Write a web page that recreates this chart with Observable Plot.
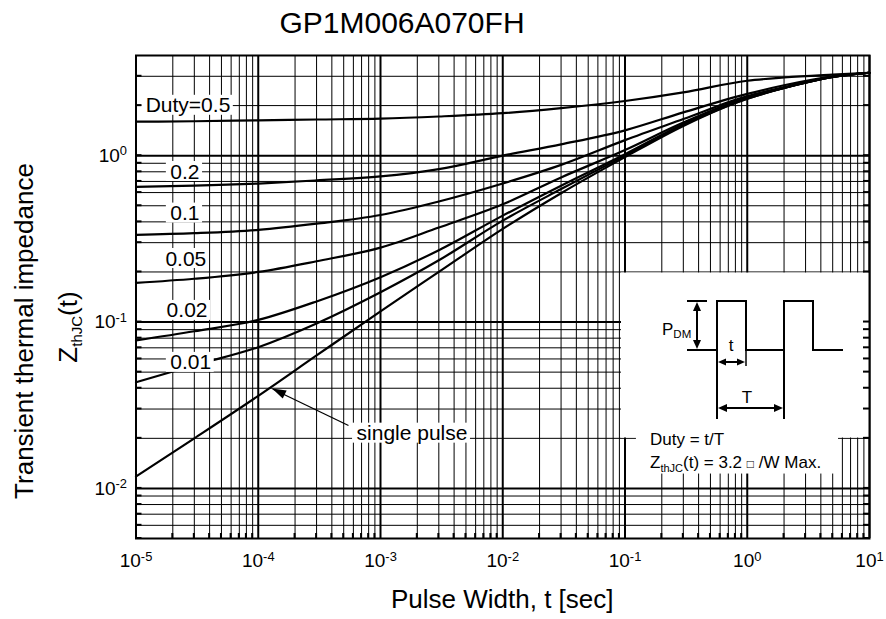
<!DOCTYPE html>
<html><head><meta charset="utf-8">
<script src="https://cdn.jsdelivr.net/npm/d3@7"></script>
<script src="https://cdn.jsdelivr.net/npm/@observablehq/plot@0.6"></script>
<style>body{margin:0;background:#fff} svg{display:block}</style>
</head><body><div id="chart"></div>
<script>
// ---- data ----
const pulseWidth = [1e-5, 3e-5, 1e-4, 3e-4, 1e-3, 3e-3, 1e-2, 3e-2, 0.1, 0.3, 1, 2, 5, 10];
const duty05   = [1.60, 1.61, 1.63, 1.65, 1.67, 1.72, 1.80, 1.93, 2.13, 2.40, 2.82, 2.95, 3.07, 3.15];
const duty02   = [0.65, 0.66, 0.68, 0.71, 0.75, 0.83, 1.00, 1.17, 1.42, 1.82, 2.35, 2.65, 3.00, 3.15];
const duty01   = [0.334, 0.342, 0.358, 0.39, 0.44, 0.53, 0.68, 0.88, 1.24, 1.66, 2.28, 2.58, 2.98, 3.15];
const duty005  = [0.172, 0.182, 0.200, 0.232, 0.28, 0.37, 0.51, 0.74, 1.08, 1.58, 2.24, 2.56, 2.97, 3.15];
const duty002  = [0.0776, 0.088, 0.103, 0.133, 0.186, 0.27, 0.436, 0.66, 1.02, 1.55, 2.22, 2.55, 2.97, 3.15];
const duty001  = [0.0435, 0.055, 0.0706, 0.098, 0.151, 0.235, 0.407, 0.63, 1.00, 1.53, 2.20, 2.55, 2.97, 3.15];
const single   = [0.0118, 0.0200, 0.036, 0.063, 0.116, 0.200, 0.363, 0.595, 0.98, 1.51, 2.20, 2.55, 2.97, 3.15];
const seriesKeys = ["0.5", "0.2", "0.1", "0.05", "0.02", "0.01", "single pulse"];
const seriesValues = [duty05, duty02, duty01, duty005, duty002, duty001, single];

const curveLabels = [
  {text: "Duty=0.5", t: 1.2e-5, z: 2},
  {text: "0.2", t: 1.91e-5, z: 0.8},
  {text: "0.1", t: 1.91e-5, z: 0.45},
  {text: "0.05", t: 1.74e-5, z: 0.24},
  {text: "0.02", t: 1.78e-5, z: 0.117},
  {text: "0.01", t: 1.91e-5, z: 0.057},
  {text: "single pulse", t: 6.37e-4, z: 0.0214}
];
const pointerArrow = [{t1: 5.47e-4, z1: 0.0239, t2: 1.31e-4, z2: 0.0396}];
const insetBoxes = [
  {x1: 0.0936, x2: 10, y1: 0.0201, y2: 0.197},
  {x1: 0.124, x2: 5.58, y1: 0.0122, y2: 0.0203}
];

const mantissas = [1, 2, 3, 4, 5, 6, 7, 8, 9];
const xDecades = [-5, -4, -3, -2, -1, 0];
const xTicks = [1e-5, 1e-4, 1e-3, 1e-2, 1e-1, 1, 10];
const yTicks = [0.01, 0.1, 1];
const xGridMinor = xDecades.flatMap(e => mantissas.slice(1).map(m => m * 10 ** e));
const yGridMinor = [-3, -2, -1, 0].flatMap(e => mantissas.slice(1).map(m => m * 10 ** e)).filter(v => v >= 0.005 && v < 4);

const rows = seriesKeys.flatMap((k, i) => pulseWidth.map((t, j) => ({series: k, t, z: seriesValues[i][j]})));
const fmt = d => "10^" + Math.round(Math.log10(d));

const plot = Plot.plot({
  width: 886, height: 619,
  marginLeft: 135.5, marginRight: 17, marginTop: 55, marginBottom: 81,
  style: {fontFamily: '"Liberation Sans", Arial, sans-serif', fontSize: "19px", background: "white", color: "#000"},
  x: {type: "log", domain: [1e-5, 10]},
  y: {type: "log", domain: [0.005, 4]},
  marks: [
    Plot.ruleX(xGridMinor, {stroke: "#000", strokeWidth: 1}),
    Plot.ruleX(xTicks, {stroke: "#000", strokeWidth: 2}),
    Plot.ruleY(yGridMinor, {stroke: "#000", strokeWidth: 1}),
    Plot.ruleY(yTicks, {stroke: "#000", strokeWidth: 2}),
    Plot.rect(insetBoxes, {x1: "x1", x2: "x2", y1: "y1", y2: "y2", fill: "white"}),
    Plot.line(rows, {x: "t", y: "z", z: "series", curve: "monotone-x", stroke: "#000", strokeWidth: 2.2}),
    Plot.link(pointerArrow, {x1: "t1", y1: "z1", x2: "t2", y2: "z2", stroke: "#000", strokeWidth: 1.3}),
    Plot.text(curveLabels, {x: "t", y: "z", text: "text", textAnchor: "start", fontSize: 21, fill: "#000"}),
    Plot.frame({stroke: "#000", strokeWidth: 2}),
    Plot.axisX(xTicks, {tickSize: 0, tickPadding: 15, tickFormat: fmt, label: null, fontSize: 19}),
    Plot.axisY(yTicks, {tickSize: 0, tickPadding: 9, tickFormat: fmt, label: null, fontSize: 19})
  ]
});
document.getElementById("chart").appendChild(plot);

const svg = d3.select(plot);
const xS = plot.scale("x"), yS = plot.scale("y");
const X = v => xS.apply(v), Y = v => yS.apply(v);

// superscript exponents on tick labels
svg.selectAll('g[aria-label="x-axis tick label"] text, g[aria-label="y-axis tick label"] text').each(function () {
  const s = this.textContent;
  if (!s.includes("^")) return;
  const [b, e] = s.split("^");
  const t = d3.select(this);
  t.text(null);
  t.append("tspan").text(b);
  t.append("tspan").attr("dy", "-0.5em").attr("font-size", "0.68em").text(e);
});

// white boxes behind curve labels
const labNode = svg.select('g[aria-label="text"]').node();
const bg = d3.select(labNode.parentNode.insertBefore(document.createElementNS("http://www.w3.org/2000/svg", "g"), labNode));
d3.select(labNode).selectAll("text").each(function () {
  const b = this.getBBox();
  const tr = this.getAttribute("transform");
  const r = bg.append("rect").attr("x", b.x - 4).attr("y", b.y + 2).attr("width", b.width + 7).attr("height", b.height - 3).attr("fill", "white");
  if (tr) r.attr("transform", tr);
  if (this.getAttribute("x")) r.attr("x", +this.getAttribute("x") * 0 + b.x - 4);
});

function head(g, tx, ty, dx, dy, len, hw) {
  const n = Math.hypot(dx, dy); dx /= n; dy /= n;
  const bx = tx - dx * len, by = ty - dy * len, px = -dy, py = dx;
  g.append("polygon").attr("points", `${tx},${ty} ${bx + px * hw},${by + py * hw} ${bx - px * hw},${by - py * hw}`).attr("fill", "#000");
}

// pointer head for "single pulse"
const pa = pointerArrow[0];
const overlay = svg.append("g");
head(overlay, X(pa.t2), Y(pa.z2), X(pa.t2) - X(pa.t1), Y(pa.z2) - Y(pa.z1), 14, 4.5);

// tick stubs (inward)
const stub = svg.append("g").attr("stroke", "#000").attr("stroke-width", 2);
const x0 = X(1e-5), x1 = X(10), y0 = Y(0.005);
xGridMinor.forEach(v => { const x = X(v); stub.append("line").attr("x1", x).attr("x2", x).attr("y1", y0).attr("y2", y0 - 5); });
[...yGridMinor, ...yTicks].forEach(v => { const y = Y(v);
  stub.append("line").attr("x1", x0).attr("x2", x0 + 6).attr("y1", y).attr("y2", y);
  stub.append("line").attr("x1", x1).attr("x2", x1 - 6).attr("y1", y).attr("y2", y); });

// titles
const font = '"Liberation Sans", Arial, sans-serif';
svg.append("text").attr("x", 402).attr("y", 33).attr("text-anchor", "middle").attr("font-size", 30).attr("font-family", font).attr("fill", "#000").text("GP1M006A070FH");
svg.append("text").attr("x", (x0 + x1) / 2).attr("y", 608).attr("text-anchor", "middle").attr("font-size", 26).attr("font-family", font).attr("fill", "#000").text("Pulse Width, t [sec]");
svg.append("text").attr("transform", "translate(33,331) rotate(-90)").attr("text-anchor", "middle").attr("font-size", 26).attr("font-family", font).attr("fill", "#000").text("Transient thermal impedance");
const zl = svg.append("text").attr("transform", "translate(77,327) rotate(-90)").attr("text-anchor", "middle").attr("font-size", 26).attr("font-family", font).attr("fill", "#000");
zl.append("tspan").text("Z");
zl.append("tspan").attr("font-size", 15).attr("dy", 5).text("thJC");
zl.append("tspan").attr("dy", -5).text("(t)");

// inset schematic
const ins = svg.append("g").attr("font-family", font).attr("fill", "#000").attr("text-anchor", "start");
ins.append("path").attr("d", "M687,350H717V301H746V350H784V301H813V350H843").attr("fill", "none").attr("stroke", "#000").attr("stroke-width", 2);
ins.append("path").attr("d", "M687,301H707M717,350V419M784,350V419").attr("fill", "none").attr("stroke", "#000").attr("stroke-width", 2);
ins.append("path").attr("d", "M746,350V366").attr("fill", "none").attr("stroke", "#000").attr("stroke-width", 1.5);
ins.append("path").attr("d", "M697,305V346M721,362H742M721,408H780").attr("fill", "none").attr("stroke", "#000").attr("stroke-width", 2);
head(ins, 697, 302, 0, -1, 9, 4); head(ins, 697, 349, 0, 1, 9, 4);
head(ins, 718, 362, -1, 0, 8, 3.5); head(ins, 745, 362, 1, 0, 8, 3.5);
head(ins, 718, 408, -1, 0, 9, 4); head(ins, 783, 408, 1, 0, 9, 4);
const pdm = ins.append("text").attr("x", 662).attr("y", 335).attr("font-size", 17).attr("text-anchor", "start");
pdm.append("tspan").text("P");
pdm.append("tspan").attr("font-size", 11.5).attr("dy", 2.5).text("DM");
ins.append("text").attr("x", 731).attr("y", 351).attr("text-anchor", "middle").attr("font-size", 17).text("t");
ins.append("text").attr("x", 747).attr("y", 403).attr("text-anchor", "middle").attr("font-size", 17).text("T");
ins.append("text").attr("x", 650).attr("y", 445).attr("font-size", 17).attr("text-anchor", "start").text("Duty = t/T");
const zt = ins.append("text").attr("x", 650).attr("y", 468).attr("font-size", 17).attr("text-anchor", "start");
zt.append("tspan").text("Z");
zt.append("tspan").attr("font-size", 11).attr("dy", 4).text("thJC");
zt.append("tspan").attr("dy", -4).text("(t) = 3.2 ");
zt.append("tspan").attr("font-size", 12).text("\u25A1");
zt.append("tspan").text(" /W Max.");
</script>
</body></html>
